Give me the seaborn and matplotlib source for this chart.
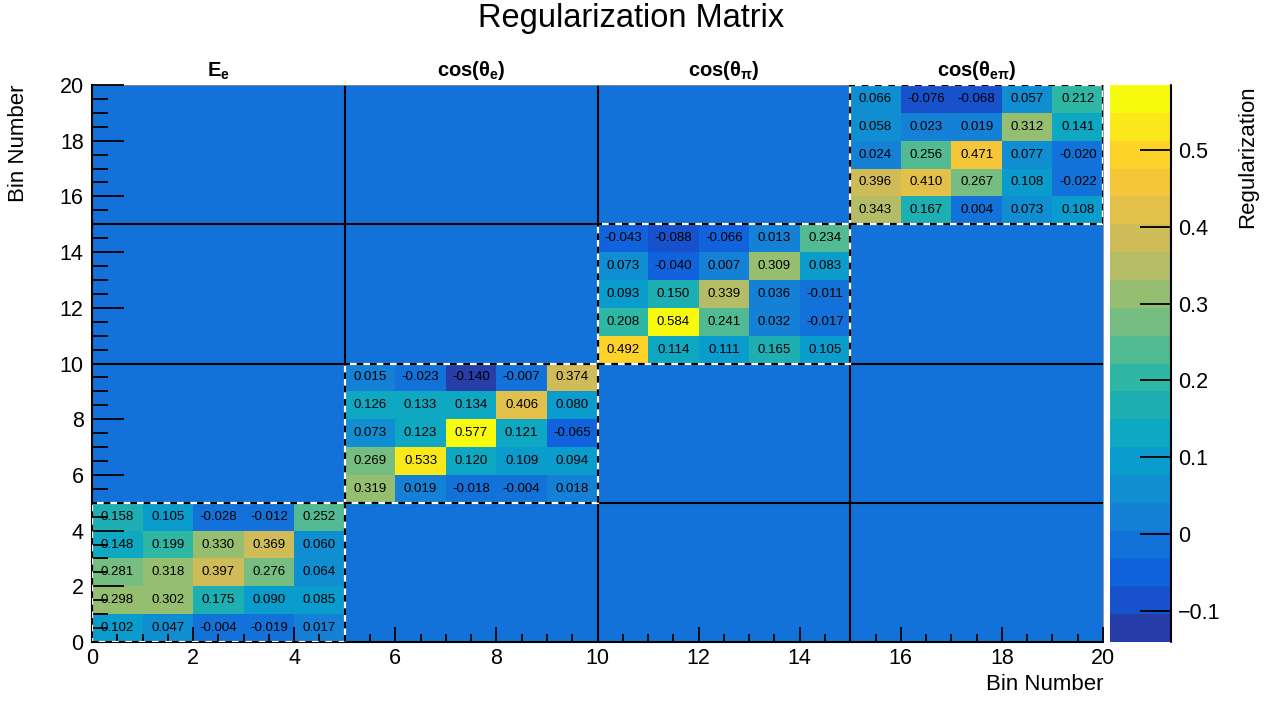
import numpy as np
import matplotlib
matplotlib.use("Agg")
import matplotlib.pyplot as plt
import seaborn as sns
from matplotlib.colors import LinearSegmentedColormap, ListedColormap
from matplotlib.patches import Rectangle

# diagonal blocks of the regularization matrix, rows listed from the top bin down
block_e_e = [
    [0.158, 0.105, -0.028, -0.012, 0.252],
    [0.148, 0.199, 0.330, 0.369, 0.060],
    [0.281, 0.318, 0.397, 0.276, 0.064],
    [0.298, 0.302, 0.175, 0.090, 0.085],
    [0.102, 0.047, -0.004, -0.019, 0.017],
]
block_cos_e = [
    [0.015, -0.023, -0.140, -0.007, 0.374],
    [0.126, 0.133, 0.134, 0.406, 0.080],
    [0.073, 0.123, 0.577, 0.121, -0.065],
    [0.269, 0.533, 0.120, 0.109, 0.094],
    [0.319, 0.019, -0.018, -0.004, 0.018],
]
block_cos_pi = [
    [-0.043, -0.088, -0.066, 0.013, 0.234],
    [0.073, -0.040, 0.007, 0.309, 0.083],
    [0.093, 0.150, 0.339, 0.036, -0.011],
    [0.208, 0.584, 0.241, 0.032, -0.017],
    [0.492, 0.114, 0.111, 0.165, 0.105],
]
block_cos_epi = [
    [0.066, -0.076, -0.068, 0.057, 0.212],
    [0.058, 0.023, 0.019, 0.312, 0.141],
    [0.024, 0.256, 0.471, 0.077, -0.020],
    [0.396, 0.410, 0.267, 0.108, -0.022],
    [0.343, 0.167, 0.004, 0.073, 0.108],
]
blocks = [block_e_e, block_cos_e, block_cos_pi, block_cos_epi]
block_titles = [r"E$_\mathrm{e}$", r"cos(θ$_\mathrm{e}$)",
                r"cos(θ$_\mathrm{π}$)", r"cos(θ$_\mathrm{eπ}$)"]

axis_ticks = [0, 2, 4, 6, 8, 10, 12, 14, 16, 18, 20]
cbar_ticks = [-0.1, 0.0, 0.1, 0.2, 0.3, 0.4, 0.5]
cbar_ticklabels = ["\u22120.1", "0", "0.1", "0.2", "0.3", "0.4", "0.5"]
z_min, z_max = -0.140, 0.5841
n_levels = 20

# ROOT kBird palette
bird_stops = [0.0, 0.125, 0.25, 0.375, 0.5, 0.625, 0.75, 0.875, 1.0]
bird_r = [0.2082, 0.0592, 0.0780, 0.0232, 0.1802, 0.5301, 0.8186, 0.9956, 0.9764]
bird_g = [0.1664, 0.3599, 0.5041, 0.6419, 0.7178, 0.7492, 0.7328, 0.7862, 0.9832]
bird_b = [0.5293, 0.8684, 0.8385, 0.7914, 0.6425, 0.4662, 0.3499, 0.1968, 0.0539]
bird = LinearSegmentedColormap.from_list(
    "bird", list(zip(bird_stops, zip(bird_r, bird_g, bird_b))))
cmap = ListedColormap([bird((i + 0.99) / n_levels) for i in range(n_levels)])

sns.set_theme(style="white", rc={"text.color": "black", "axes.labelcolor": "black",
                                 "xtick.color": "black", "ytick.color": "black",
                                 "axes.axisbelow": False})
plt.rcParams["font.family"] = ["Liberation Sans", "DejaVu Sans"]
plt.rcParams["mathtext.fontset"] = "custom"
plt.rcParams["mathtext.rm"] = "Liberation Sans:bold"
plt.rcParams["mathtext.bf"] = "Liberation Sans:bold"
plt.rcParams["mathtext.it"] = "Liberation Sans:bold"

tick_fs = 15.5
label_fs = 16

n_bins = 20
bs = 5
mat = np.zeros((n_bins, n_bins))
annot = np.full((n_bins, n_bins), "", dtype=object)
for k, b in enumerate(blocks):
    arr = np.array(b)[::-1]
    mat[k * bs:(k + 1) * bs, k * bs:(k + 1) * bs] = arr
    for i in range(bs):
        for j in range(bs):
            annot[k * bs + i, k * bs + j] = f"{arr[i, j]:.3f}"

fig = plt.figure(figsize=(12.73, 7.02), dpi=100)
ax = fig.add_axes([92 / 1273, 60 / 702, 1011 / 1273, 557 / 702])
cax = fig.add_axes([1110 / 1273, 60 / 702, 61 / 1273, 557 / 702])

sns.heatmap(mat, ax=ax, cbar_ax=cax, cmap=cmap, vmin=z_min, vmax=z_max,
            annot=annot, fmt="", annot_kws={"color": "black", "fontsize": 9.5},
            xticklabels=False, yticklabels=False, linewidths=0,
            cbar_kws={"ticks": cbar_ticks})
ax.set_xlim(0, n_bins)
ax.set_ylim(0, n_bins)
ax.set_axisbelow(False)
cax.set_axisbelow(False)

# block separators
for v in [5, 10, 15]:
    ax.axvline(v, color="black", lw=1.5)
    ax.axhline(v, color="black", lw=1.5)
# dashed frames around the blocks
for k in range(len(blocks)):
    ax.add_patch(Rectangle((k * bs, k * bs), bs, bs, fill=False,
                           ec="white", lw=1.6, zorder=5))
    ax.add_patch(Rectangle((k * bs, k * bs), bs, bs, fill=False,
                           ec="black", lw=1.6, ls=(0, (3, 3)), zorder=6))
    ax.text(k * bs + bs / 2, 20.12, block_titles[k], ha="center", va="bottom",
            fontsize=14.5, fontweight="bold")

for side in ["left", "bottom"]:
    ax.spines[side].set_visible(True)
    ax.spines[side].set_color("black")
    ax.spines[side].set_linewidth(1.5)
for side in ["top", "right"]:
    ax.spines[side].set_visible(True)
    ax.spines[side].set_color("#888888")
    ax.spines[side].set_linewidth(0.6)

ax.set_xticks(axis_ticks)
ax.set_xticklabels([str(t) for t in axis_ticks])
ax.set_yticks(axis_ticks)
ax.set_yticklabels([str(t) for t in axis_ticks])
ax.set_xticks(np.arange(0, 20.5, 0.5), minor=True)
ax.set_yticks(np.arange(0, 20.5, 0.5), minor=True)
ax.tick_params(axis="x", which="major", direction="in", length=11, width=1.3,
               labelsize=tick_fs, pad=4, bottom=True, top=False, color="black")
ax.tick_params(axis="x", which="minor", direction="in", length=5.5, width=1.3,
               bottom=True, top=False, color="black")
ax.tick_params(axis="y", which="major", direction="in", length=23, width=1.3,
               labelsize=tick_fs, pad=6, left=True, right=False, color="black")
ax.tick_params(axis="y", which="minor", direction="in", length=11.5, width=1.3,
               left=True, right=False, color="black")
for lbl in ax.get_xticklabels() + ax.get_yticklabels():
    lbl.set_rotation(0)

ax.set_xlabel("Bin Number", fontsize=label_fs, loc="right")
ax.xaxis.set_label_coords(1.0, -0.058)
ax.set_ylabel("Bin Number", fontsize=label_fs, loc="top")
ax.yaxis.set_label_coords(-0.062, 1.0)

# colour bar
cbar = ax.collections[0].colorbar
cbar.outline.set_visible(False)
cax.set_yticks(cbar_ticks)
cax.set_yticklabels(cbar_ticklabels)
cax.tick_params(axis="y", which="major", direction="in", length=22, width=1.3,
                labelsize=tick_fs, pad=5, right=True, left=False, color="black")
cax.minorticks_off()
cax.plot([1, 1], [0, 1], transform=cax.transAxes, color="black", lw=1.5,
         clip_on=False)
cax.set_ylabel("Regularization", fontsize=label_fs, loc="top")
cax.yaxis.set_label_position("right")
cax.yaxis.set_label_coords(2.08, 1.0)

fig.suptitle("Regularization Matrix", x=631 / 1273, y=1 - 18 / 702,
             va="center", fontsize=23.5)

fig.savefig("out.png", dpi=100)
